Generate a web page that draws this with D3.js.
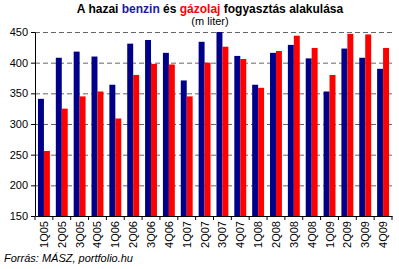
<!DOCTYPE html>
<html>
<head>
<meta charset="utf-8">
<script src="https://cdn.jsdelivr.net/npm/d3@7"></script>
<style>
  body { margin: 0; background: #fff; }
  svg { display: block; font-family: Arial, 'Liberation Sans', sans-serif; }
  .grid line { stroke: #666; stroke-dasharray: 5,3; }
  .grid .domain { display: none; }
</style>
</head>
<body>
<main></main>
<script>
const quarters = ['1Q05','2Q05','3Q05','4Q05','1Q06','2Q06','3Q06','4Q06','1Q07','2Q07',
  '3Q07','4Q07','1Q08','2Q08','3Q08','4Q08','1Q09','2Q09','3Q09','4Q09'];
const benzin = [341, 408, 418, 410, 364, 431, 437, 416, 371, 434,
  451, 411, 364, 416, 429, 407, 353, 423, 408, 390];
const gazolaj = [256, 325, 345, 353, 309, 380, 398, 397, 345, 400,
  426, 406, 359, 419, 444, 424, 380, 447, 446, 424];
const yTicks = [150, 200, 250, 300, 350, 400, 450];
const seriesNames = ['benzin', 'gazolaj'];
const colors = { benzin: '#000088', gazolaj: '#ff0000' };

const width = 399;
const height = 269;
const plotLeft = 35, plotRight = 392, plotTop = 32, plotBottom = 216;

const svg = d3.select('main')
  .append('svg')
  .attr('width', width)
  .attr('height', height);

const xScale = d3.scaleBand()
  .domain(quarters)
  .range([plotLeft, plotRight])
  .padding(0);

const inner = d3.scaleBand()
  .domain(seriesNames)
  .range([0, xScale.bandwidth()])
  .paddingInner(0)
  .paddingOuter(0.5);

const yScale = d3.scaleLinear()
  .domain([150, 450])
  .range([plotBottom, plotTop]);

// gridlines
svg.append('g')
  .attr('class', 'grid')
  .attr('transform', `translate(${plotLeft}, 0)`)
  .call(d3.axisRight(yScale)
    .tickValues(yTicks.slice(1))
    .tickSize(plotRight - plotLeft)
    .tickFormat(''));

const rows = quarters.map((q, i) => ({ q: q, benzin: benzin[i], gazolaj: gazolaj[i] }));

const groups = svg.selectAll('.q')
  .data(rows)
  .enter()
  .append('g')
  .attr('transform', d => `translate(${xScale(d.q)}, 0)`);

groups.selectAll('rect')
  .data(d => seriesNames.map(s => ({ s: s, v: d[s] })))
  .enter()
  .append('rect')
  .attr('x', d => inner(d.s))
  .attr('width', inner.bandwidth())
  .attr('y', d => yScale(Math.min(d.v, 450)))
  .attr('height', d => yScale(150) - yScale(Math.min(d.v, 450)))
  .attr('fill', d => colors[d.s]);

// y axis
const yAxis = svg.append('g')
  .attr('transform', `translate(${plotLeft}, 0)`)
  .call(d3.axisLeft(yScale).tickValues(yTicks).tickSize(4).tickPadding(3).tickSizeOuter(0));
yAxis.selectAll('text').attr('font-size', 11).attr('fill', '#000').style('font-family', 'Arial, Liberation Sans, sans-serif');
yAxis.selectAll('line, path').attr('stroke', '#000');

// x axis
const xAxis = svg.append('g')
  .attr('transform', `translate(0, ${plotBottom})`)
  .call(d3.axisBottom(xScale).tickSize(0).tickFormat(''));
xAxis.select('path').attr('stroke', '#000');

svg.append('g')
  .selectAll('line')
  .data(quarters.concat(['end']))
  .enter()
  .append('line')
  .attr('x1', (d, i) => plotLeft + i * xScale.step())
  .attr('x2', (d, i) => plotLeft + i * xScale.step())
  .attr('y1', plotBottom)
  .attr('y2', plotBottom + 4)
  .attr('stroke', '#000');

svg.append('g')
  .selectAll('text')
  .data(quarters)
  .enter()
  .append('text')
  .attr('transform', d => `translate(${xScale(d) + xScale.bandwidth() / 2 + 4}, ${plotBottom + 5}) rotate(-90)`)
  .attr('text-anchor', 'end')
  .attr('font-size', 11)
  .attr('fill', '#000')
  .text(d => d);

// title
const title = svg.append('text')
  .attr('x', 210)
  .attr('y', 13)
  .attr('text-anchor', 'middle')
  .attr('font-size', 12)
  .attr('font-weight', 'bold');
title.append('tspan').text('A hazai ');
title.append('tspan').attr('fill', '#1a1aa6').text('benzin');
title.append('tspan').text(' és ');
title.append('tspan').attr('fill', '#ff0000').text('gázolaj');
title.append('tspan').text(' fogyasztás alakulása');

svg.append('text')
  .attr('x', 210)
  .attr('y', 25)
  .attr('text-anchor', 'middle')
  .attr('font-size', 11)
  .text('(m liter)');

svg.append('text')
  .attr('x', 4)
  .attr('y', 262)
  .attr('font-size', 11)
  .attr('font-style', 'italic')
  .text('Forrás: MÁSZ, portfolio.hu');
</script>
</body>
</html>
